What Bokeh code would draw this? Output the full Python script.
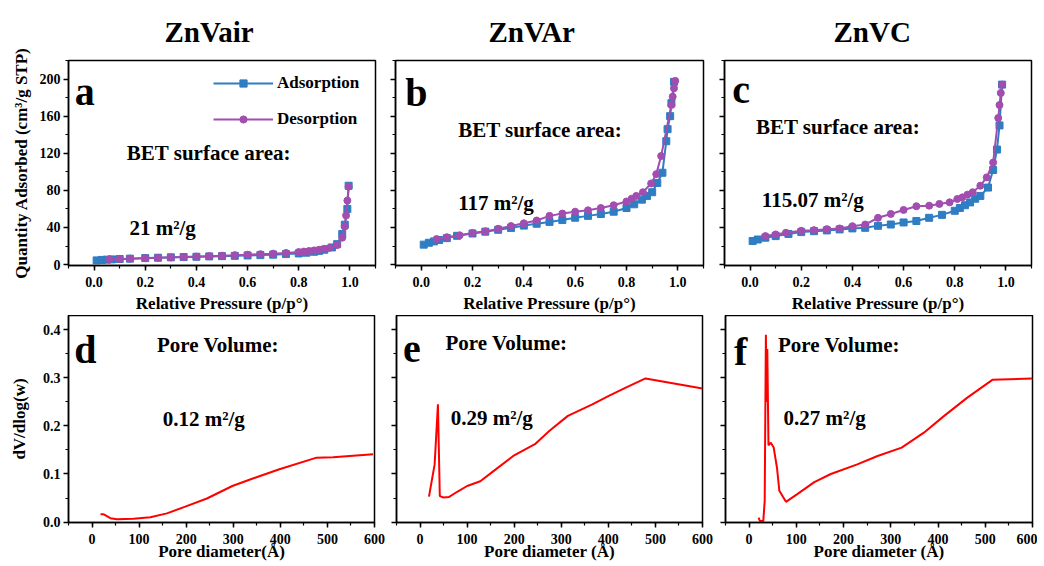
from bokeh.plotting import figure
from bokeh.layouts import column, row
from bokeh.models import (Range1d, SingleIntervalTicker, NumeralTickFormatter, Label,
                          Legend, LegendItem, CustomLabelingPolicy)
from bokeh.embed import file_html
from bokeh.resources import INLINE

# ---------------- data ----------------
titles = ["ZnVair", "ZnVAr", "ZnVC"]

a_ads_p = [0.01, 0.03, 0.05, 0.07, 0.1, 0.14, 0.2, 0.25, 0.3, 0.35, 0.4, 0.45, 0.5, 0.55, 0.6,
           0.65, 0.7, 0.75, 0.8, 0.83, 0.86, 0.88, 0.9, 0.93, 0.95, 0.97, 0.98, 0.99, 0.995]
a_ads = [4.5, 5.0, 5.3, 5.6, 6.0, 6.4, 7.0, 7.4, 7.8, 8.1, 8.4, 8.8, 9.1, 9.4, 9.8,
         10.2, 10.7, 11.3, 12.0, 12.8, 13.8, 14.8, 16.0, 18.5, 22, 33, 43, 60, 85]
a_des_p = [0.995, 0.99, 0.985, 0.98, 0.97, 0.95, 0.92, 0.9, 0.88, 0.86, 0.84, 0.82, 0.8, 0.75,
           0.7, 0.65, 0.6, 0.55, 0.5, 0.45, 0.4, 0.35, 0.3, 0.25, 0.2, 0.14, 0.1, 0.06]
a_des = [84, 69, 53, 41, 29, 21, 18, 17, 16, 15.3, 14.6, 14, 13.5, 12.5,
         11.8, 11.2, 10.6, 10.1, 9.6, 9.1, 8.6, 8.1, 7.7, 7.3, 6.9, 6.4, 6.1, 5.8]

b_ads_p = [0.01, 0.03, 0.05, 0.07, 0.1, 0.14, 0.2, 0.25, 0.3, 0.35, 0.4, 0.45, 0.5, 0.55, 0.6,
           0.65, 0.7, 0.75, 0.8, 0.83, 0.86, 0.88, 0.9, 0.92, 0.94, 0.955, 0.96, 0.97, 0.975, 0.985]
b_ads = [21.5, 23.5, 25, 26.5, 28.5, 31, 33.5, 35.5, 37.5, 39.5, 42, 44, 46, 48, 50.5,
         52.5, 54.5, 57, 61, 65, 70, 74, 78, 88, 99, 133, 146, 160, 174, 197]
b_des_p = [0.99, 0.985, 0.98, 0.975, 0.935, 0.916, 0.896, 0.864, 0.838, 0.82, 0.8, 0.75, 0.7,
           0.65, 0.6, 0.55, 0.5, 0.45, 0.4, 0.35, 0.3, 0.25, 0.2, 0.15, 0.1, 0.06]
b_des = [198, 190, 181, 172, 117, 97.5, 87.5, 78, 74, 71, 68, 64, 61,
         58.5, 57, 55, 52.5, 47.5, 44.5, 41.5, 38.6, 35.8, 34, 31.5, 29.5, 27.5]

c_ads_p = [0.01, 0.03, 0.06, 0.1, 0.15, 0.2, 0.25, 0.3, 0.35, 0.4, 0.45, 0.5, 0.55, 0.6, 0.65,
           0.7, 0.75, 0.8, 0.82, 0.84, 0.86, 0.88, 0.9, 0.93, 0.95, 0.965, 0.975, 0.985]
c_ads = [25.4, 27, 29, 30.7, 33, 35, 36, 36.8, 37.9, 39, 39.6, 41.8, 43.2, 45.4, 47,
         50.4, 53.6, 58, 61, 64, 67, 71, 74, 83, 102, 124, 150, 194]
c_des_p = [0.985, 0.98, 0.975, 0.97, 0.95, 0.925, 0.9, 0.87, 0.85, 0.83, 0.81, 0.78, 0.74,
           0.7, 0.65, 0.6, 0.55, 0.5, 0.45, 0.4, 0.35, 0.3, 0.25, 0.2, 0.14, 0.1, 0.06]
c_des = [194, 185, 172, 158, 110, 94, 85, 78, 75.4, 72.5, 70.7, 67.1, 65.4,
         63.5, 62.9, 58.9, 54.6, 50.4, 43.2, 41.4, 38.9, 38.2, 37.1, 36.4, 34.3, 32.5, 30.7]

d_x = [18, 25, 39, 53, 88, 124, 159, 198, 244, 298, 343, 398, 477, 512, 597]
d_y = [0.016, 0.016, 0.008, 0.006, 0.007, 0.010, 0.018, 0.032, 0.049, 0.075, 0.091, 0.110,
       0.134, 0.135, 0.141]

e_x = [19, 31, 38, 42, 50, 61, 79, 100, 128, 156, 198, 244, 275, 314, 366, 401, 437, 479, 600]
e_y = [0.053, 0.12, 0.245, 0.054, 0.051, 0.052, 0.063, 0.075, 0.085, 0.106, 0.1375, 0.162,
       0.19, 0.221, 0.245, 0.2625, 0.28, 0.299, 0.278]

f_x = [20, 23, 30, 33, 35.5, 37.5, 38.5, 41, 46, 52, 59, 64, 78, 102, 138, 173, 229, 272,
       323, 370, 413, 462, 515, 600]
f_y = [0.009, 0.002, 0.002, 0.044, 0.39, 0.25, 0.36, 0.16, 0.165, 0.155, 0.113, 0.065, 0.042,
       0.058, 0.083, 0.1, 0.12, 0.1375, 0.155, 0.186, 0.221, 0.259, 0.296, 0.299]

bet_values = ["21 m²/g", "117 m²/g", "115.07 m²/g"]
pore_values = ["0.12 m²/g", "0.29 m²/g", "0.27 m²/g"]

# ---------------- style ----------------
FONT = "Liberation Serif"
BLUE = "#2F7DC2"
PURPLE = "#A24DB0"
RED = "#FF0000"

HIDE_LABELS = "for (const i of indices) { indices.unset(i) }\nreturn indices"


def make_fig(xr, yr, fw, fh, bl, br, bt, bb, xint, yint, xfmt, yfmt,
             show_ylabels, xlabel, xlab_standoff, ylabel=None, ylab_standoff=8,
             title=None, title_offset=0):
    p = figure(frame_width=fw, frame_height=fh,
               min_border_left=bl, min_border_right=br,
               min_border_top=bt, min_border_bottom=bb,
               x_range=Range1d(*xr), y_range=Range1d(*yr),
               output_backend="svg", toolbar_location=None)
    p.xgrid.visible = False
    p.ygrid.visible = False
    p.outline_line_color = "black"
    p.outline_line_width = 1.5
    p.outline_line_alpha = 1
    p.background_fill_color = "white"
    p.border_fill_color = "white"
    p.xaxis.ticker = SingleIntervalTicker(interval=xint, num_minor_ticks=2)
    p.yaxis.ticker = SingleIntervalTicker(interval=yint, num_minor_ticks=2)
    p.xaxis.formatter = NumeralTickFormatter(format=xfmt)
    p.yaxis.formatter = NumeralTickFormatter(format=yfmt)
    for ax in (p.xaxis[0], p.yaxis[0]):
        ax.axis_line_width = 1.5
        ax.axis_line_color = "black"
        ax.major_tick_line_width = 1.5
        ax.minor_tick_line_width = 1.2
        ax.major_tick_out = 5
        ax.major_tick_in = 0
        ax.minor_tick_out = 3
        ax.minor_tick_in = 0
        ax.major_label_text_font = FONT
        ax.major_label_text_font_style = "bold"
        ax.major_label_text_font_size = "14px"
        ax.major_label_text_color = "black"
        ax.major_label_standoff = 3
        ax.axis_label_text_font = FONT
        ax.axis_label_text_font_style = "bold"
        ax.axis_label_text_font_size = "17px"
        ax.axis_label_text_color = "black"
    p.xaxis.major_label_standoff = 6
    p.xaxis.axis_label = xlabel
    p.xaxis.axis_label_standoff = xlab_standoff
    if ylabel:
        p.yaxis.axis_label = ylabel
        p.yaxis.axis_label_standoff = ylab_standoff
    if not show_ylabels:
        p.yaxis.major_label_policy = CustomLabelingPolicy(code=HIDE_LABELS)
        p.yaxis.major_label_text_font_size = "1px"
        p.yaxis.major_label_standoff = 0
    if title:
        p.title.text = title
        p.title.align = "left"
        p.title.text_font = FONT
        p.title.text_font_style = "bold"
        p.title.text_font_size = "29px"
        p.title.text_color = "black"
        p.title.standoff = 25
        p.title.offset = title_offset
    return p


def add_label(p, x, y, text, size):
    p.add_layout(Label(x=x, y=y, text=text, text_font=FONT, text_font_style="bold",
                       text_font_size=size, text_color="black",
                       text_align="left", text_baseline="alphabetic"))


XL_TOP = "Relative Pressure (p/p°)"
YL_TOP = "Quantity Adsorbed (cm³/g STP)"

top_geo = [  # (border_left, frame_width, border_right)
    (68, 307, 10),
    (10, 308, 11),
    (10, 307, 5),
]
bot_geo = [
    (68, 306, 12),
    (10, 306, 14),
    (8, 307, 5),
]
title_offsets = [96, 93, 109]

iso = [(a_ads_p, a_ads, a_des_p, a_des), (b_ads_p, b_ads, b_des_p, b_des),
       (c_ads_p, c_ads, c_des_p, c_des)]
letters_top = ["a", "b", "c"]
letter_pos_top = [(-0.076, 187), (-0.062, 186), (-0.07, 189)]
bet_pos = [(0.128, 120.5), (0.144, 145.5), (0.023, 148.5)]
val_pos = [(0.138, 39.5), (0.144, 66.5), (0.046, 69.5)]

top_figs = []
for i in range(3):
    bl, fw, br = top_geo[i]
    p = make_fig((-0.1, 1.1), (-1, 220), fw, 205, bl, br, 60, 44, 0.2, 40, "0.0", "0",
                 i == 0, XL_TOP, 4, YL_TOP if i == 0 else None, 6,
                 titles[i], title_offsets[i])
    ap, av, dp, dv = iso[i]
    r1 = p.line(ap, av, line_color=BLUE, line_width=2)
    r2 = p.scatter(ap, av, marker="square", size=7, fill_color=BLUE, line_color=BLUE)
    r3 = p.line(dp, dv, line_color=PURPLE, line_width=2)
    r4 = p.scatter(dp, dv, marker="circle", size=7, fill_color=PURPLE, line_color=PURPLE)
    if i == 0:
        leg = Legend(items=[LegendItem(label="Adsorption", renderers=[r1, r2]),
                            LegendItem(label="Desorption", renderers=[r3, r4])],
                     location=(145, 136))
        leg.label_text_font = FONT
        leg.label_text_font_style = "bold"
        leg.label_text_font_size = "17px"
        leg.label_text_color = "black"
        leg.glyph_width = 60
        leg.glyph_height = 18
        leg.label_height = 18
        leg.spacing = 16
        leg.padding = 0
        leg.margin = 0
        leg.label_standoff = 4
        leg.border_line_alpha = 0
        leg.background_fill_alpha = 0
        p.add_layout(leg)
    lx, ly = letter_pos_top[i]
    add_label(p, lx, ly, letters_top[i], "40px")
    bx, by = bet_pos[i]
    add_label(p, bx, by, "BET surface area:", "21px")
    vx, vy = val_pos[i]
    add_label(p, vx, vy, bet_values[i], "21px")
    top_figs.append(p)

pores = [(d_x, d_y), (e_x, e_y), (f_x, f_y)]
letters_bot = ["d", "e", "f"]
letter_pos_bot = [(-38, 0.36), (-36, 0.36), (-32, 0.356)]
pv_pos = [(138, 0.3685), (54, 0.3725), (61, 0.3685)]
pval_pos = [(150, 0.2145), (65, 0.2165), (73, 0.2165)]
xlabels_bot = ["Pore diameter(Å)", "Pore diameter (Å)", "Pore diameter (Å)"]

bot_figs = []
for i in range(3):
    bl, fw, br = bot_geo[i]
    p = make_fig((-50, 600), (-0.001, 0.43), fw, 207, bl, br, 0, 36, 100, 0.1, "0", "0.0",
                 i == 0, xlabels_bot[i], -5, "dV/dlog(w)" if i == 0 else None, 11)
    px, py = pores[i]
    p.line(px, py, line_color=RED, line_width=2)
    lx, ly = letter_pos_bot[i]
    add_label(p, lx, ly, letters_bot[i], "40px")
    bx, by = pv_pos[i]
    add_label(p, bx, by, "Pore Volume:", "21px")
    vx, vy = pval_pos[i]
    add_label(p, vx, vy, pore_values[i], "21px")
    bot_figs.append(p)

layout = column(row(*top_figs), row(*bot_figs))
open("out.html", "w").write(file_html(layout, INLINE))
